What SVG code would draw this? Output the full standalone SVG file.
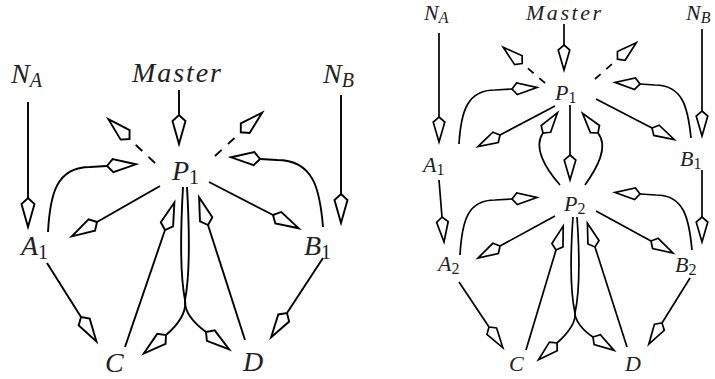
<svg xmlns="http://www.w3.org/2000/svg" width="715" height="379" viewBox="0 0 715 379">
<style>
.e{fill:none;stroke:#000;stroke-width:1.9;stroke-linecap:butt}
.e2{fill:none;stroke:#000;stroke-width:1.7;stroke-linecap:butt}
.L{marker-end:url(#kL)}
.S{marker-end:url(#kS)}
.dL{stroke-dasharray:9 8.5}
.dS{stroke-dasharray:7.5 7.5}
text{font-family:"Liberation Serif","DejaVu Serif",serif;font-style:italic;fill:#222}
.big{font-size:28px}
.sm{font-size:22px}
.n{font-style:normal}
</style>
<defs>
<marker id="kL" markerUnits="userSpaceOnUse" viewBox="-3 -9 35 18" markerWidth="35" markerHeight="18" refX="0" refY="0" orient="auto" overflow="visible">
<path d="M0,0 L6,-6.5 L29,0 L6,6.5 Z" fill="#fff" stroke="#000" stroke-width="1.9" stroke-dasharray="none"/>
</marker>
<marker id="kS" markerUnits="userSpaceOnUse" viewBox="-3 -8 31 16" markerWidth="31" markerHeight="16" refX="0" refY="0" orient="auto" overflow="visible">
<path d="M0,0 L5,-5.8 L25,0 L5,5.8 Z" fill="#fff" stroke="#000" stroke-width="1.7" stroke-dasharray="none"/>
</marker>
</defs>
<g id="connectors">
<!-- left diagram -->
<path class="e L" d="M28,102 L28,198"/>
<path class="e L" d="M179,90 L179,115"/>
<path class="e L" d="M341,95 L341,194"/>
<path class="e L dL" d="M155,163 L129.5,139"/>
<path class="e L dL" d="M215,156 L240.8,132.3"/>
<path class="e L" d="M48,232 C50,195 56,167 90,167 L107,166"/>
<path class="e L" d="M323,227 C320,190 314,160 277,160 L260,159"/>
<path class="e L" d="M160,186 L97,222"/>
<path class="e L" d="M209,182 L273,215"/>
<path class="e L" d="M125,347 L165,230"/>
<path class="e L" d="M245,340 L208,225"/>
<path class="e L" d="M183,187 C180,240 181,280 185,300 C187,312 178,325 166,335"/>
<path class="e L" d="M187,187 C190,240 189,280 185,300 C184,312 194,323 206,332"/>
<path class="e L" d="M47,263 L81,317"/>
<path class="e L" d="M323,258 L287,313"/>
<!-- right diagram -->
<path class="e2 S" d="M439,33 L439,117"/>
<path class="e2 S" d="M564,24 L564,45"/>
<path class="e2 S" d="M702,29 L702,111"/>
<path class="e2 S dS" d="M545,83 L522.2,63.5"/>
<path class="e2 S dS" d="M595,79 L617.5,59.2"/>
<path class="e2 S" d="M459,144 C461,110 468,90 495,90 L512,89"/>
<path class="e2 S" d="M691,138 C688,108 683,85 655,85 L640,84"/>
<path class="e2 S" d="M555,106 L500,135"/>
<path class="e2 S" d="M596,99 L652,128"/>
<path class="e2 S" d="M570,105 L570,155"/>
<path class="e2 S" d="M560,185 C545,168 533,147 543,133"/>
<path class="e2 S" d="M585,185 C597,168 609,147 598,133"/>
<path class="e2 S" d="M439,180 L442,217"/>
<path class="e2 S" d="M702,170 L702,217"/>
<path class="e2 S" d="M460,255 C462,220 468,200 495,200 L512,199"/>
<path class="e2 S" d="M692,250 C689,218 684,195 656,195 L640,194"/>
<path class="e2 S" d="M555,216 L500,246"/>
<path class="e2 S" d="M596,211 L651,241"/>
<path class="e2 S" d="M526,350 L556,250"/>
<path class="e2 S" d="M627,347 L595,247"/>
<path class="e2 S" d="M573,217 C570,260 571,295 575,313 C576,322 568,333 557,343"/>
<path class="e2 S" d="M577,217 C580,260 579,295 575,313 C575,320 582,330 593,337"/>
<path class="e2 S" d="M459,282 L489,327"/>
<path class="e2 S" d="M690,278 L662,323"/>
</g>
<!-- left nodes -->
<g id="L_NA"><text class="big" x="11" y="83">N<tspan font-size="20" dy="4">A</tspan></text></g>
<g id="L_Master"><text class="big" x="132" y="82" textLength="89" lengthAdjust="spacing">Master</text></g>
<g id="L_NB"><text class="big" x="323" y="83">N<tspan font-size="20" dy="4">B</tspan></text></g>
<g id="L_P1"><text class="big" x="172" y="180">P<tspan class="n" font-size="20" dy="4">1</tspan></text></g>
<g id="L_A1"><text class="big" x="21" y="255">A<tspan class="n" font-size="20" dy="4">1</tspan></text></g>
<g id="L_B1"><text class="big" x="304" y="255">B<tspan class="n" font-size="20" dy="4">1</tspan></text></g>
<g id="L_C"><text class="big" x="105" y="372">C</text></g>
<g id="L_D"><text class="big" x="243" y="371">D</text></g>
<!-- right nodes -->
<g id="R_NA"><text class="sm" x="424" y="20">N<tspan font-size="16" dy="3">A</tspan></text></g>
<g id="R_Master"><text class="sm" x="526" y="20" textLength="75" lengthAdjust="spacing">Master</text></g>
<g id="R_NB"><text class="sm" x="686" y="20">N<tspan font-size="16" dy="3">B</tspan></text></g>
<g id="R_P1"><text class="sm" x="555" y="100">P<tspan class="n" font-size="16" dy="3">1</tspan></text></g>
<g id="R_A1"><text class="sm" x="423" y="172">A<tspan class="n" font-size="16" dy="3">1</tspan></text></g>
<g id="R_B1"><text class="sm" x="680" y="166">B<tspan class="n" font-size="16" dy="3">1</tspan></text></g>
<g id="R_P2"><text class="sm" x="564" y="211">P<tspan class="n" font-size="16" dy="3">2</tspan></text></g>
<g id="R_A2"><text class="sm" x="438" y="271">A<tspan class="n" font-size="16" dy="3">2</tspan></text></g>
<g id="R_B2"><text class="sm" x="675" y="272">B<tspan class="n" font-size="16" dy="3">2</tspan></text></g>
<g id="R_C"><text class="sm" x="509" y="371">C</text></g>
<g id="R_D"><text class="sm" x="625" y="371">D</text></g>
</svg>
